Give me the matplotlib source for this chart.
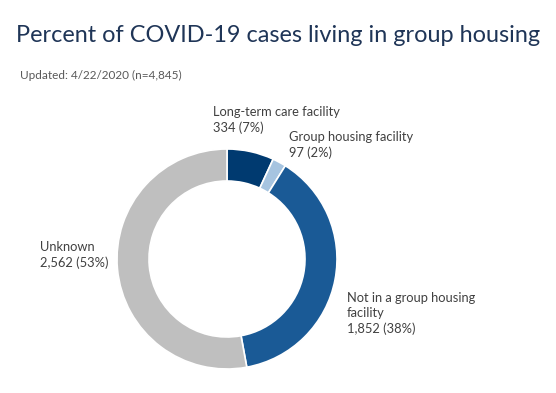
import matplotlib
matplotlib.use("Agg")
import matplotlib.pyplot as plt

categories = ["Long-term care facility", "Group housing facility",
              "Not in a group housing\nfacility", "Unknown"]
counts = [334, 97, 1852, 2562]
percents = [7, 2, 38, 53]
colors = ["#003a70", "#a6c4e0", "#1a5a96", "#bfbfbf"]

W, H = 556, 393
fig = plt.figure(figsize=(W / 100, H / 100), dpi=100)
ax = fig.add_axes([0, 0, 1, 1])

cx, cy, r = 227, H - 259, 110
ax.pie(counts, colors=colors, startangle=90, counterclock=False,
       center=(cx, cy), radius=r, frame=True,
       wedgeprops=dict(width=32, edgecolor="white", linewidth=1.2))
ax.set_xlim(0, W)
ax.set_ylim(0, H)
ax.set_aspect("equal")
ax.axis("off")

font = "Lato"
fig.text(16 / W, 1 - 36 / H, "Percent of COVID-19 cases living in group housing",
         fontsize=16.9, color="#1f3557", family=font, va="center", ha="left")
fig.text(20 / W, 1 - 75 / H, "Updated: 4/22/2020 (n=4,845)",
         fontsize=8.5, color="#595959", family=font, va="center", ha="left")

label_pos = [(213, 106), (289, 131), (347, 292), (40, 241)]
for (x, y), cat, n, p in zip(label_pos, categories, counts, percents):
    txt = f"{cat}\n{n:,} ({p}%)"
    fig.text(x / W, 1 - y / H, txt, fontsize=9.3, color="#404040", family=font,
             va="top", ha="left", linespacing=1.3)

fig.savefig("out.png", dpi=100, facecolor="white")
